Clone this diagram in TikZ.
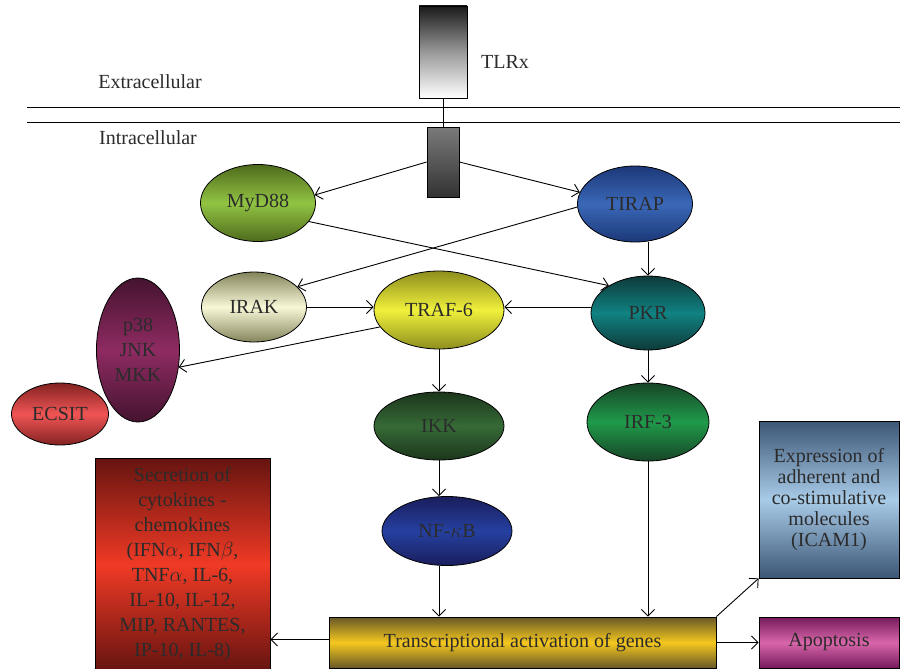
\documentclass[tikz,border=0pt]{standalone}
\usepackage{fontspec}
\setmainfont{Liberation Serif}
\usetikzlibrary{arrows.meta}
\usetikzlibrary{shapes.geometric}
\usetikzlibrary{calc}

\definecolor{txt}{HTML}{2B2B2B}
\definecolor{mydA}{HTML}{4E6A1C}\definecolor{mydB}{HTML}{92C443}
\definecolor{tirA}{HTML}{1C3878}\definecolor{tirB}{HTML}{3A68B8}
\definecolor{irkA}{HTML}{85855C}\definecolor{irkB}{HTML}{F8F8D8}
\definecolor{trfA}{HTML}{8E8E1E}\definecolor{trfB}{HTML}{F0F03C}
\definecolor{pkrA}{HTML}{0E3A3A}\definecolor{pkrB}{HTML}{108282}
\definecolor{mapA}{HTML}{45132F}\definecolor{mapB}{HTML}{8E2B62}
\definecolor{ecsA}{HTML}{842222}\definecolor{ecsB}{HTML}{F05555}
\definecolor{ikkA}{HTML}{1C361C}\definecolor{ikkB}{HTML}{366A36}
\definecolor{irfA}{HTML}{174526}\definecolor{irfB}{HTML}{1F9A4A}
\definecolor{nfkA}{HTML}{1A1E5C}\definecolor{nfkB}{HTML}{2540A0}
\definecolor{secA}{HTML}{661410}\definecolor{secB}{HTML}{F03A25}
\definecolor{expA}{HTML}{3C5676}\definecolor{expB}{HTML}{A8CBE8}
\definecolor{traA}{HTML}{685828}\definecolor{traB}{HTML}{F5C81E}
\definecolor{apoA}{HTML}{761A5C}\definecolor{apoB}{HTML}{D866AA}

\tikzset{
  tint/.style 2 args={top color=#1, bottom color=#1, middle color=#2},
  cell/.style={ellipse, draw=black, line width=0.8pt, inner sep=0pt, align=center,
    text=txt, font=\fontsize{20}{25}\selectfont},
  panel/.style={rectangle, draw=black, line width=0.8pt, inner sep=0pt, align=center,
    text=txt, font=\fontsize{20}{25}\selectfont},
  link/.style={-{Straight Barb[length=6.5pt,width=13pt]}, line width=0.9pt},
}

\begin{document}
\begin{tikzpicture}[x=1pt,y=-1pt]
        \useasboundingbox (0,0) rectangle (900,669);

        %Membrane
        \draw[line width=1pt] (27,107) -- (900,107);
        \draw[line width=1pt] (27,122) -- (900,122);
        \node[text=txt, font=\fontsize{20}{22}\selectfont] (extra) at (150,82) {Extracellular};
        \node[text=txt, font=\fontsize{20}{22}\selectfont] (intra) at (148,138) {Intracellular};

        %Receptor
        \node[panel, minimum width=48, minimum height=92, top color=black!90, bottom color=white, middle color=black!40] (tlrx) at (443,52) {};
        \node[text=txt, font=\fontsize{20}{22}\selectfont] (tlrlab) at (505,62) {TLRx};
        \node[panel, minimum width=32, minimum height=70, top color=black!52, bottom color=black!80] (tlrin) at (443,162) {};
        \draw[line width=0.9pt] (tlrx.south) -- (tlrin.north);

        %Adaptors and kinases
        \node[cell, tint={mydA}{mydB}, minimum width=115, minimum height=77] (myd) at (258,203) {MyD88};
        \node[cell, tint={tirA}{tirB}, minimum width=115, minimum height=76] (tirap) at (635,204) {TIRAP};
        \node[cell, tint={irkA}{irkB}, minimum width=105, minimum height=70] (irak) at (254,307) {IRAK};
        \node[cell, tint={trfA}{trfB}, minimum width=130, minimum height=78] (traf) at (439,310) {TRAF-6};
        \node[cell, tint={pkrA}{pkrB}, minimum width=114, minimum height=74] (pkr) at (648,313) {PKR};
        \node[cell, tint={ecsA}{ecsB}, minimum width=97, minimum height=62] (ecsit) at (60,414) {ECSIT};
        \node[cell, tint={mapA}{mapB}, minimum width=83, minimum height=144] (mapk) at (138,350) {p38\\JNK\\MKK};
        \node[cell, tint={ikkA}{ikkB}, minimum width=130, minimum height=68] (ikk) at (439,426) {IKK};
        \node[cell, tint={irfA}{irfB}, minimum width=122, minimum height=78] (irf) at (648,422) {IRF-3};
        \node[cell, tint={nfkA}{nfkB}, minimum width=130, minimum height=69] (nfkb) at (447,531) {NF-$\kappa$B};

        %Outcomes
        \node[panel, tint={secA}{secB}, minimum width=175, minimum height=213] (secr) at (182.5,564.5)
            {Secretion of\\cytokines -\\chemokines\\(IFN$\alpha$, IFN$\beta$,\\TNF$\alpha$, IL-6,\\IL-10, IL-12,\\MIP, RANTES,\\IP-10, IL-8)};
        \node[panel, tint={expA}{expB}, minimum width=140, minimum height=157, font=\fontsize{20}{21}\selectfont] (expr) at (829,499.5)
            {Expression of\\adherent and\\co-stimulative\\molecules\\(ICAM1)};
        \node[panel, tint={traA}{traB}, minimum width=387, minimum height=51] (trans) at (522.5,642.5) {Transcriptional activation of genes};
        \node[panel, tint={apoA}{apoB}, minimum width=140, minimum height=51] (apop) at (829,642.5) {Apoptosis};

        %Arrows
        \draw[link] (tlrin.west) -- (myd.8);
        \draw[link] (tlrin.east) -- (tirap.168);
        \draw[link] (myd.-20) -- (pkr.145);
        \draw[link] (tirap.183) -- (irak.25);
        \draw[link] (pkr.north |- tirap.south) -- (pkr.north);
        \draw[link] (irak.east) -- (irak.east -| traf.west);
        \draw[link] (pkr.174) -- (pkr.174 -| traf.east);
        \draw[link] (traf.196) -- (mapk.-23);
        \draw[link] (traf.south) -- (ikk.north);
        \draw[link] (ikk.south) -- (ikk.south |- nfkb.north);
        \draw[link] (ikk.south |- nfkb.south) -- (ikk.south |- trans.north);
        \draw[link] (pkr.south) -- (irf.north);
        \draw[link] (irf.south) -- (irf.south |- trans.north);
        \draw[link] ([yshift=3pt]trans.west) -- ([yshift=3pt]secr.east |- trans.west);
        \draw[link] (trans.east) -- (apop.west);
        \draw[link] (trans.north east) -- (expr.south west);

    \end{tikzpicture}
\end{document}
